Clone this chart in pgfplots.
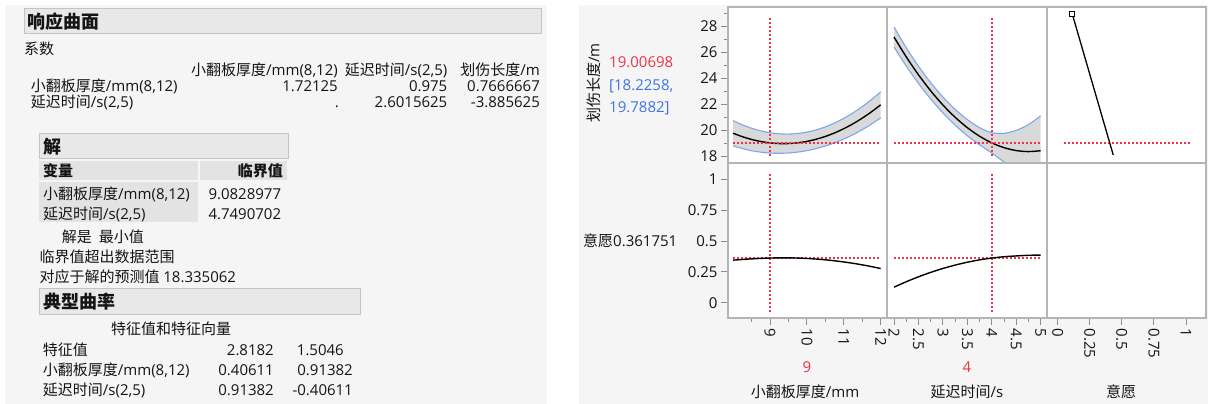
\documentclass[border=0pt]{standalone}
\usepackage{fontspec}
\setmainfont{Open Sans}
\newfontfamily\cjkfont[Scale=1.0]{Noto Sans CJK SC}
\newcommand\zh[1]{{\cjkfont #1}}
\newcommand\zhb[1]{{\cjkfont\bfseries #1}}
\usepackage{pgfplots}
\usepackage{pgfplotstable}
\pgfplotsset{compat=1.18}

\definecolor{panelbg}{HTML}{F5F5F5}
\definecolor{hdrfill}{HTML}{E8E8E8}
\definecolor{hdrdraw}{HTML}{C4C4C4}
\definecolor{cellbg}{HTML}{E3E3E3}
\definecolor{cellborder}{HTML}{B4B4B4}
\definecolor{tickgray}{HTML}{8C8C8C}
\definecolor{jred}{HTML}{EC3347}
\definecolor{jblue}{HTML}{3C74E6}
\definecolor{bandfill}{HTML}{D9D9D9}
\definecolor{bandedge}{HTML}{7EA6EC}
\definecolor{txt}{HTML}{141414}

% profiler cell (thickness): x, predicted, upper and lower confidence limits
\pgfplotstableread{
x f up lo
8.00 19.752 20.722 18.782
8.25 19.485 20.399 18.571
8.50 19.272 20.136 18.408
8.75 19.113 19.931 18.295
9.00 19.007 19.787 18.227
9.25 18.955 19.704 18.206
9.50 18.957 19.684 18.230
9.75 19.013 19.728 18.298
10.00 19.122 19.835 18.411
10.25 19.286 20.006 18.566
10.50 19.503 20.240 18.766
10.75 19.774 20.538 19.010
11.00 20.099 20.898 19.300
11.25 20.477 21.318 19.636
11.50 20.910 21.799 20.021
11.75 21.396 22.338 20.454
12.00 21.935 22.935 20.935
}\tA
% confidence band outline (upper limits forward, lower limits back)
\pgfplotstableread{
x y
8.00 20.722
8.25 20.399
8.50 20.136
8.75 19.931
9.00 19.787
9.25 19.704
9.50 19.684
9.75 19.728
10.00 19.835
10.25 20.006
10.50 20.240
10.75 20.538
11.00 20.898
11.25 21.318
11.50 21.799
11.75 22.338
12.00 22.935
12.00 20.935
11.75 20.454
11.50 20.021
11.25 19.636
11.00 19.300
10.75 19.010
10.50 18.766
10.25 18.566
10.00 18.411
9.75 18.298
9.50 18.230
9.25 18.206
9.00 18.227
8.75 18.295
8.50 18.408
8.25 18.571
8.00 18.782
}\tAband
% profiler cell (delay time)
\pgfplotstableread{
x f up lo
2.00 27.150 27.920 26.380
2.25 25.627 26.337 24.917
2.50 24.247 24.907 23.587
2.75 23.013 23.643 22.383
3.00 21.922 22.532 21.312
3.25 20.977 21.587 20.367
3.50 20.176 20.796 19.556
3.75 19.519 20.179 18.859
4.00 19.007 19.787 18.227
4.25 18.639 19.739 17.539
4.50 18.416 19.966 16.866
4.75 18.338 20.418 16.258
5.00 18.404 21.084 15.724
}\tB
\pgfplotstableread{
x y
2.00 27.920
2.25 26.337
2.50 24.907
2.75 23.643
3.00 22.532
3.25 21.587
3.50 20.796
3.75 20.179
4.00 19.787
4.25 19.739
4.50 19.966
4.75 20.418
5.00 21.084
5.00 15.724
4.75 16.258
4.50 16.866
4.25 17.539
4.00 18.227
3.75 18.859
3.50 19.556
3.25 20.367
3.00 21.312
2.75 22.383
2.50 23.587
2.25 24.917
2.00 26.380
}\tBband
\pgfplotstableread{
x d
8.00 0.345
8.25 0.350
8.50 0.355
8.75 0.359
9.00 0.3618
9.25 0.3633
9.50 0.3632
9.75 0.3616
10.00 0.3585
10.25 0.3537
10.50 0.3474
10.75 0.3396
11.00 0.3301
11.25 0.3192
11.50 0.3066
11.75 0.2925
12.00 0.2769
}\tC
\pgfplotstableread{
x d
2.00 0.1257
2.25 0.1698
2.50 0.2098
2.75 0.2456
3.00 0.2773
3.25 0.3047
3.50 0.3279
3.75 0.3470
4.00 0.3618
4.25 0.3725
4.50 0.3789
4.75 0.3840
5.00 0.3860
}\tD

\pgfplotsset{
  jcell/.style={scale only axis, width=159pt,
    axis background/.style={fill=white},
    axis line style={draw=cellborder, line width=1.5pt},
    tick style={draw=tickgray, line width=0.9pt},
    tick align=outside, major tick length=7pt, minor tick length=4pt,
    xtick pos=bottom, ytick pos=left,
    xtick=\empty, ytick=\empty,
    tick label style={font=\fontsize{15}{18}\selectfont, text=txt},
    /pgf/number format/assume math mode=true,
    xticklabel style={rotate=-90, anchor=west},
    yticklabel style={anchor=east},
  },
  toprow/.style={height=156pt, ymin=17.46, ymax=29.46},
  botrow/.style={height=155pt, ymin=-0.124, ymax=1.132},
  col1/.style={xmin=7.862, xmax=12.171},
  col2/.style={xmin=1.857, xmax=5.129},
  col3/.style={xmin=-0.083, xmax=1.156},
  jdot/.style={jred, line width=1.6pt, line cap=butt, dash pattern=on 2pt off 2pt},
  jline/.style={black, line width=1.4pt, smooth},
  jedge/.style={bandedge, line width=1.1pt, smooth},
}

\tikzset{
  t/.style={inner sep=0pt, text height=12.6pt, text depth=2pt, font=\fontsize{15}{18}\selectfont, text=txt},
  tb/.style={inner sep=0pt, text height=15.5pt, text depth=2.4pt, font=\fontsize{18}{21}\selectfont\bfseries, text=txt},
  tbs/.style={t, font=\fontsize{15}{18}\selectfont\bfseries},
}

\begin{document}
\begin{tikzpicture}
\fill[white] (0pt,0pt) rectangle (1208pt,404pt);
\fill[panelbg] (5pt,0pt) rectangle (547pt,399pt);
\fill[panelbg] (579pt,0pt) rectangle (1208pt,399pt);

% ---------- left report ----------
\filldraw[fill=hdrfill, draw=hdrdraw, line width=1pt] (24pt,395.7pt) rectangle (541pt,370pt);
\node[tb, anchor=west] at (27pt,382.3pt) {\zhb{响应曲面}};
\node[t, anchor=west] at (24pt,354.7pt) {\zh{系数}};
\node[t, anchor=east] at (338pt,333.3pt) {\zh{小翻板厚度}/mm(8,12)};
\node[t, anchor=east] at (447.5pt,333.3pt) {\zh{延迟时间}/s(2,5)};
\node[t, anchor=east] at (540pt,333.3pt) {\zh{划伤长度}/m};
\node[t, anchor=west] at (30.7pt,318pt) {\zh{小翻板厚度}/mm(8,12)};
\node[t, anchor=east] at (338pt,318pt) {1.72125};
\node[t, anchor=east] at (447.5pt,318pt) {0.975};
\node[t, anchor=east] at (540pt,318pt) {0.7666667};
\node[t, anchor=west] at (30.7pt,301.3pt) {\zh{延迟时间}/s(2,5)};
\node[t, anchor=east] at (339pt,301.3pt) {.};
\node[t, anchor=east] at (447.5pt,301.3pt) {2.6015625};
\node[t, anchor=east] at (540pt,301.3pt) {-3.885625};

\filldraw[fill=hdrfill, draw=hdrdraw, line width=1pt] (39pt,270pt) rectangle (288pt,245pt);
\node[tb, anchor=west] at (43pt,257pt) {\zhb{解}};
\fill[cellbg] (39pt,243pt) rectangle (198pt,224pt);
\fill[cellbg] (200pt,243pt) rectangle (287pt,224pt);
\fill[cellbg] (39pt,222pt) rectangle (198pt,182pt);
\node[tbs, anchor=west] at (43pt,232.5pt) {\zhb{变量}};
\node[tbs, anchor=east] at (283pt,232.5pt) {\zhb{临界值}};
\node[t, anchor=west] at (43pt,209.7pt) {\zh{小翻板厚度}/mm(8,12)};
\node[t, anchor=west] at (208.3pt,209.7pt) {9.0828977};
\node[t, anchor=west] at (43pt,189.7pt) {\zh{延迟时间}/s(2,5)};
\node[t, anchor=west] at (208.3pt,189.7pt) {4.7490702};
\node[t, anchor=west] at (61.7pt,166.3pt) {\zh{解是}\hspace{7pt}\zh{最小值}};
\node[t, anchor=west] at (39.3pt,146.3pt) {\zh{临界值超出数据范围}};
\node[t, anchor=west] at (39.3pt,126.7pt) {\zh{对应于解的预测值} 18.335062};

\filldraw[fill=hdrfill, draw=hdrdraw, line width=1pt] (39pt,115pt) rectangle (360pt,89pt);
\node[tb, anchor=west] at (43pt,102pt) {\zhb{典型曲率}};
\node[t] at (171pt,75pt) {\zh{特征值和特征向量}};
\node[t, anchor=west] at (42.7pt,53.3pt) {\zh{特征值}};
\node[t, anchor=east] at (274pt,53.3pt) {2.8182};
\node[t, anchor=east] at (344pt,53.3pt) {1.5046};
\node[t, anchor=west] at (42.7pt,33.3pt) {\zh{小翻板厚度}/mm(8,12)};
\node[t, anchor=east] at (274pt,33.3pt) {0.40611};
\node[t, anchor=east] at (353pt,33.3pt) {0.91382};
\node[t, anchor=west] at (42.7pt,13.3pt) {\zh{延迟时间}/s(2,5)};
\node[t, anchor=east] at (274pt,13.3pt) {0.91382};
\node[t, anchor=east] at (353pt,13.3pt) {-0.40611};

% ---------- profiler ----------
\node[t, rotate=90] at (594pt,321pt) {\zh{划伤长度}/m};
\node[t, anchor=west, text=jred] at (609pt,342pt) {19.00698};
\node[t, anchor=west, text=jblue] at (609pt,319pt) {[18.2258,};
\node[t, anchor=west, text=jblue] at (609pt,296.7pt) {19.7882]};
\node[t, anchor=west] at (583pt,163pt) {\zh{意愿}0.361751};

% top row, column 1
\begin{axis}[jcell, toprow, col1, at={(728pt,241pt)}, anchor=south west,
  ytick={18,20,...,28}, minor ytick={19,21,...,29}]
  \addplot[fill=bandfill, draw=none] table[x=x, y=y] {\tAband};
  \addplot[jedge] table[x=x, y=up] {\tA};
  \addplot[jedge] table[x=x, y=lo] {\tA};
  \addplot[jline] table[x=x, y=f] {\tA};
  \addplot[jdot] coordinates {(9,18) (9,28.75)};
  \addplot[jdot] coordinates {(8,19.00698) (12,19.00698)};
\end{axis}

% top row, column 2
\begin{axis}[jcell, toprow, col2, at={(887pt,241pt)}, anchor=south west, width=160pt]
  \addplot[fill=bandfill, draw=none] table[x=x, y=y] {\tBband};
  \addplot[jedge] table[x=x, y=up] {\tB};
  \addplot[jedge] table[x=x, y=lo] {\tB};
  \addplot[jline] table[x=x, y=f] {\tB};
  \addplot[jdot] coordinates {(4,18) (4,28.75)};
  \addplot[jdot] coordinates {(2,19.00698) (5,19.00698)};
\end{axis}

% top row, column 3 (desirability function)
\begin{axis}[jcell, toprow, col3, at={(1047pt,241pt)}, anchor=south west]
  \addplot[jdot] coordinates {(0.05,19.00698) (1.03,19.00698)};
  \addplot[black, line width=1.3pt] coordinates {(0.114,28.92) (0.433,18.08)};
  \addplot[only marks, mark=square*, mark size=2.4pt, mark options={fill=white, draw=black, line width=1.1pt}] coordinates {(0.114,28.92)};
\end{axis}

% bottom row, column 1
\begin{axis}[jcell, botrow, col1, at={(728pt,86pt)}, anchor=south west,
  ytick={0,0.25,0.5,0.75,1}, xtick={9,10,11,12}, minor xtick={8.5,9.5,10.5,11.5}]
  \addplot[jdot] coordinates {(9,-0.073) (9,1.053)};
  \addplot[jdot] coordinates {(8,0.361751) (12,0.361751)};
  \addplot[jline] table[x=x, y=d] {\tC};
\end{axis}

% bottom row, column 2
\begin{axis}[jcell, botrow, col2, at={(887pt,86pt)}, anchor=south west, width=160pt,
  xtick={2,2.5,...,5}, minor xtick={2.25,2.75,...,4.75}]
  \addplot[jdot] coordinates {(4,-0.073) (4,1.053)};
  \addplot[jdot] coordinates {(2,0.361751) (5,0.361751)};
  \addplot[jline] table[x=x, y=d] {\tD};
\end{axis}

% bottom row, column 3
\begin{axis}[jcell, botrow, col3, at={(1047pt,86pt)}, anchor=south west,
  xtick={0,0.25,0.5,0.75,1}]
  \addplot[draw=none] coordinates {(0,0) (1,1)};
\end{axis}

\node[t, text=jred] at (807pt,37pt) {9};
\node[t, text=jred] at (967pt,37pt) {4};
\node[t] at (805pt,12pt) {\zh{小翻板厚度}/mm};
\node[t] at (967pt,12pt) {\zh{延迟时间}/s};
\node[t] at (1121pt,12pt) {\zh{意愿}};
\pgfresetboundingbox
\path (0pt,0pt) rectangle (1208pt,404pt);
\end{tikzpicture}
\end{document}
